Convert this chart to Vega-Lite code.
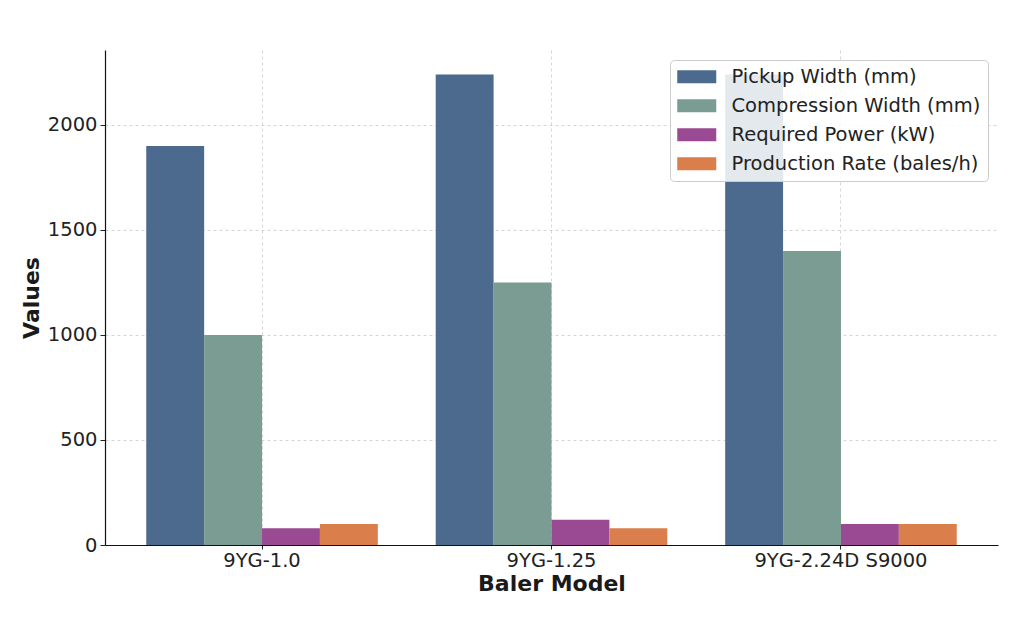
{
  "$schema": "https://vega.github.io/schema/vega-lite/v6.json",
  "width": 893,
  "height": 495,
  "autosize": {"type": "none"},
  "padding": {"left": 105, "top": 50, "right": 22, "bottom": 75},
  "background": "white",
  "config": {
    "font": "DejaVu Sans",
    "view": {"stroke": null}
  },
  "data": {
    "values": [
      {"model": "9YG-1.0", "metric": "Pickup Width (mm)", "value": 1900},
      {"model": "9YG-1.0", "metric": "Compression Width (mm)", "value": 1000},
      {"model": "9YG-1.0", "metric": "Required Power (kW)", "value": 80},
      {"model": "9YG-1.0", "metric": "Production Rate (bales/h)", "value": 100},
      {"model": "9YG-1.25", "metric": "Pickup Width (mm)", "value": 2240},
      {"model": "9YG-1.25", "metric": "Compression Width (mm)", "value": 1250},
      {"model": "9YG-1.25", "metric": "Required Power (kW)", "value": 120},
      {"model": "9YG-1.25", "metric": "Production Rate (bales/h)", "value": 80},
      {"model": "9YG-2.24D S9000", "metric": "Pickup Width (mm)", "value": 2240},
      {"model": "9YG-2.24D S9000", "metric": "Compression Width (mm)", "value": 1400},
      {"model": "9YG-2.24D S9000", "metric": "Required Power (kW)", "value": 100},
      {"model": "9YG-2.24D S9000", "metric": "Production Rate (bales/h)", "value": 100}
    ]
  },
  "mark": {"type": "bar"},
  "encoding": {
    "x": {
      "field": "model",
      "type": "nominal",
      "sort": null,
      "scale": {"paddingInner": 0.2, "paddingOuter": 0.1425},
      "axis": {
        "title": "Baler Model",
        "titleFontSize": 22,
        "titleFontWeight": "bold",
        "titleColor": "#1a1a1a",
        "titlePadding": 4,
        "labelFontSize": 19.5,
        "labelColor": "#222",
        "labelAngle": 0,
        "labelPadding": 2,
        "bandPosition": 0.5,
        "tickSize": 4,
        "tickColor": "#222",
        "domainColor": "#111",
        "domainWidth": 1.2,
        "grid": true,
        "gridDash": [3, 3],
        "gridColor": "#cccccc",
        "gridWidth": 0.8
      }
    },
    "xOffset": {
      "field": "metric",
      "type": "nominal",
      "sort": ["Pickup Width (mm)", "Compression Width (mm)", "Required Power (kW)", "Production Rate (bales/h)"],
      "scale": {"paddingInner": 0, "paddingOuter": 0}
    },
    "y": {
      "field": "value",
      "type": "quantitative",
      "scale": {"domain": [0, 2357], "nice": false},
      "axis": {
        "title": "Values",
        "titleFontSize": 22,
        "titleFontWeight": "bold",
        "titleColor": "#1a1a1a",
        "titlePadding": 4,
        "labelFontSize": 19.5,
        "labelColor": "#222",
        "labelPadding": 3,
        "format": "d",
        "values": [0, 500, 1000, 1500, 2000],
        "tickSize": 5,
        "tickColor": "#222",
        "domainColor": "#111",
        "domainWidth": 1.2,
        "gridDash": [3, 3],
        "gridColor": "#cccccc",
        "gridWidth": 0.8
      }
    },
    "color": {
      "field": "metric",
      "type": "nominal",
      "sort": ["Pickup Width (mm)", "Compression Width (mm)", "Required Power (kW)", "Production Rate (bales/h)"],
      "scale": {
        "domain": ["Pickup Width (mm)", "Compression Width (mm)", "Required Power (kW)", "Production Rate (bales/h)"],
        "range": ["#4b6a8e", "#7a9c93", "#9a4a92", "#da7e4b"]
      },
      "legend": {
        "title": null,
        "orient": "none",
        "legendX": 565,
        "legendY": 10,
        "padding": 7,
        "fillColor": "rgba(255,255,255,0.85)",
        "strokeColor": "#cccccc",
        "cornerRadius": 4,
        "labelFontSize": 19.5,
        "labelColor": "#222",
        "labelOffset": 25,
        "labelLimit": 400,
        "rowPadding": 8,
        "symbolType": "M-3,-1H3V1H-3Z",
        "symbolSize": 169,
        "symbolOffset": 10,
        "symbolStrokeWidth": 0,
        "symbolOpacity": 1
      }
    }
  }
}
